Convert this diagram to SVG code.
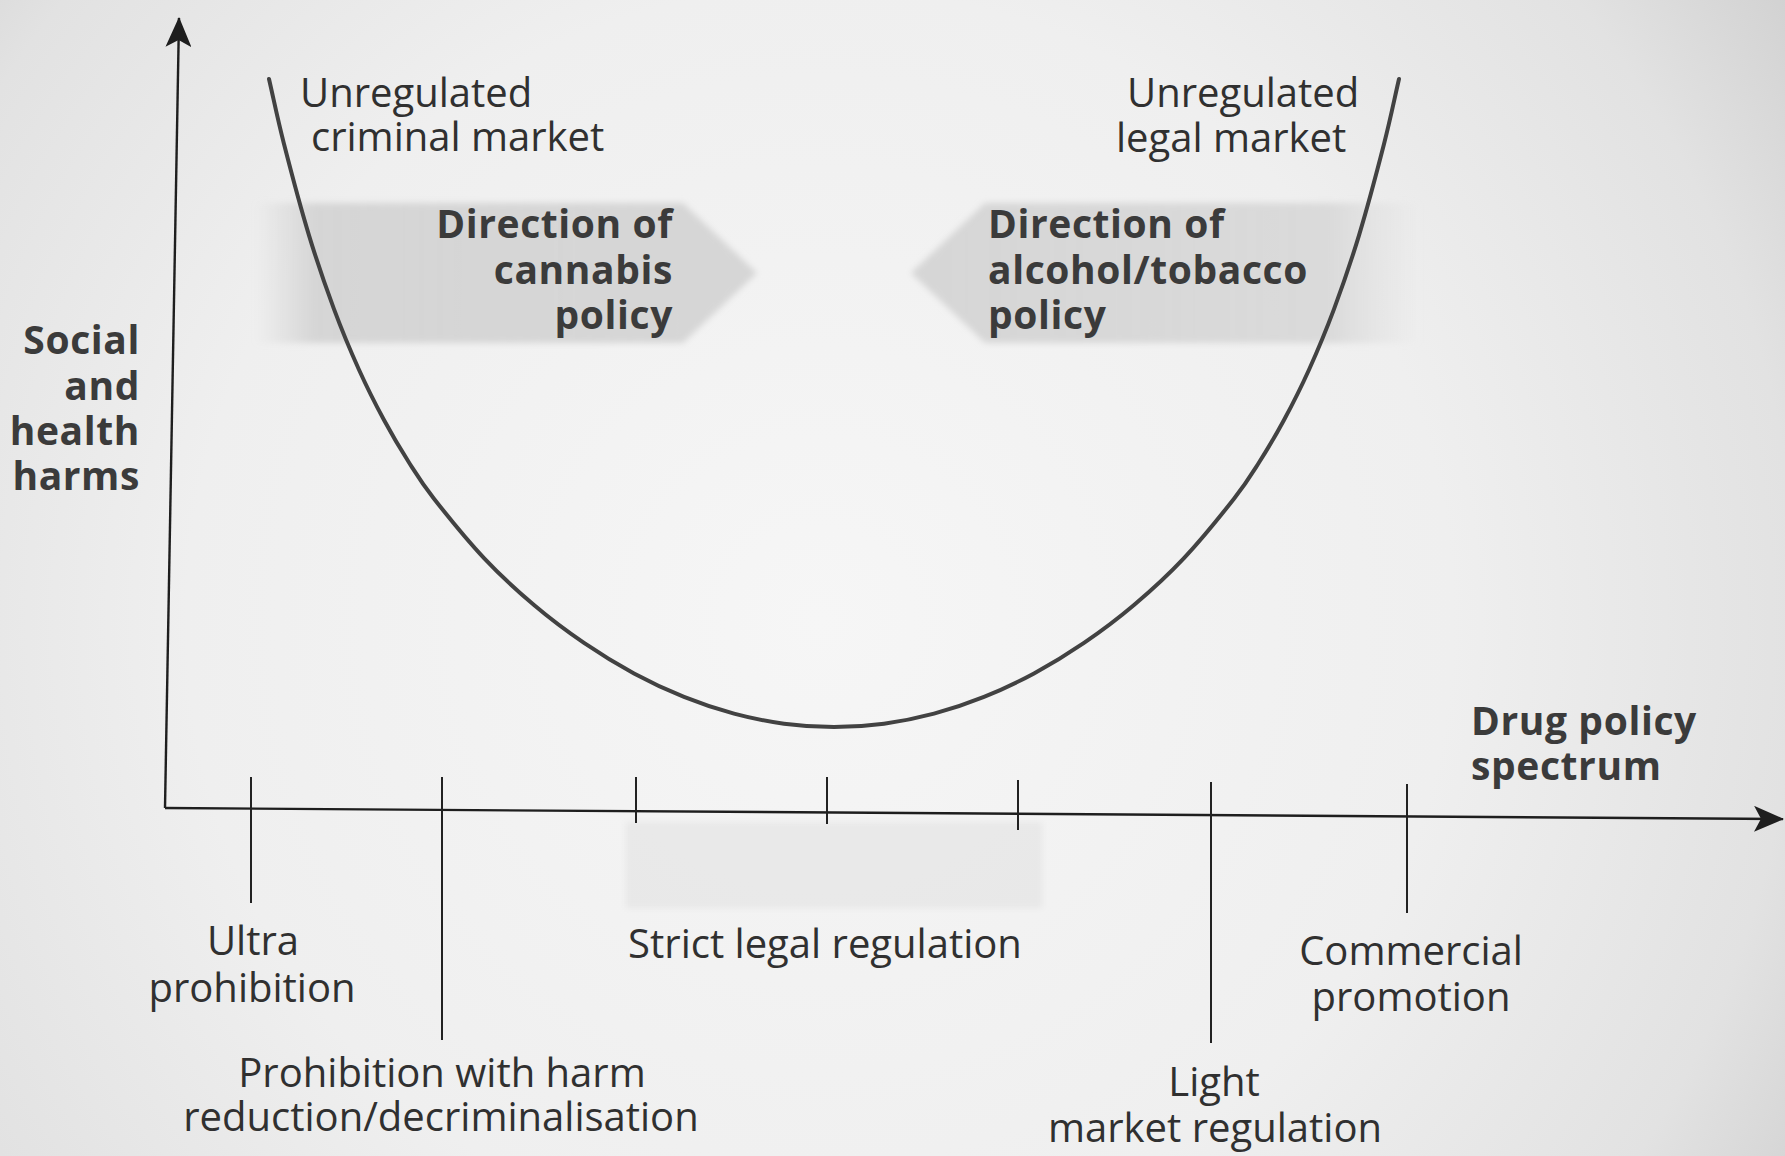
<svg xmlns="http://www.w3.org/2000/svg" width="1785" height="1156" viewBox="0 0 1785 1156">
  <defs>
    <radialGradient id="paper" cx="820" cy="620" r="1150" gradientUnits="userSpaceOnUse">
      <stop offset="0" stop-color="#f6f6f6"/>
      <stop offset="0.55" stop-color="#efefef"/>
      <stop offset="0.85" stop-color="#e2e2e2"/>
      <stop offset="1" stop-color="#d2d2d2"/>
    </radialGradient>
    <linearGradient id="bandLeft" x1="255" y1="0" x2="757" y2="0" gradientUnits="userSpaceOnUse">
      <stop offset="0" stop-color="#d3d3d3" stop-opacity="0"/>
      <stop offset="0.12" stop-color="#d3d3d3" stop-opacity="0.9"/>
      <stop offset="1" stop-color="#d6d6d6"/>
    </linearGradient>
    <linearGradient id="bandRight" x1="911" y1="0" x2="1420" y2="0" gradientUnits="userSpaceOnUse">
      <stop offset="0" stop-color="#d6d6d6"/>
      <stop offset="0.82" stop-color="#d8d8d8" stop-opacity="0.9"/>
      <stop offset="1" stop-color="#dadada" stop-opacity="0"/>
    </linearGradient>
    <filter id="soft" x="-5%" y="-20%" width="110%" height="140%">
      <feGaussianBlur stdDeviation="3"/>
    </filter>
    <marker id="arrowhead" viewBox="0 0 30 26" refX="29" refY="13" markerWidth="30" markerHeight="26" markerUnits="userSpaceOnUse" orient="auto">
      <path d="M0,0 L30,13 L0,26 L7,13 Z" fill="#1e1e1e"/>
    </marker>
    <style>
      .label { font-family: "Open Sans", "Noto Sans", "Liberation Sans", sans-serif; font-size: 40px; fill: #303030; }
      .bold { font-family: "Open Sans", "Noto Sans", "Liberation Sans", sans-serif; font-size: 39px; font-weight: bold; letter-spacing: 0.6px; fill: #3b3b3b; }
      .mid { text-anchor: middle; }
      .end { text-anchor: end; }
      .axis { fill: none; stroke: #1e1e1e; stroke-width: 2.4; }
      .tick { stroke: #222; stroke-width: 2; }
      .curve { fill: none; stroke: #424242; stroke-width: 4; stroke-linecap: round; }
    </style>
  </defs>

  <!-- paper background -->
  <rect width="1785" height="1156" fill="url(#paper)"/>

  <!-- shaded policy-direction bands and the strict-regulation zone -->
  <g id="bands" filter="url(#soft)">
    <polygon id="band-cannabis" points="255,203 683,203 757,273 683,343 255,343" fill="url(#bandLeft)"/>
    <polygon id="band-alcohol" points="911,273 985,203 1420,203 1420,343 985,343" fill="url(#bandRight)"/>
    <rect id="zone-strict" x="626" y="822" width="416" height="86" fill="#000" fill-opacity="0.045"/>
  </g>

  <!-- harms curve: steep walls, flat minimum at strict legal regulation -->
  <g id="harm-curve">
    <path class="curve" d="M269,79 C274,100.67 277.33,117.95 284,144 C290.67,170.05 300.67,207.78 309,235.3 C317.33,262.82 325.67,286.7 334,309.1 C342.33,331.5 350.67,351.22 359,369.7 C367.33,388.18 375.67,404.53 384,420 C392.33,435.47 400.67,449.38 409,462.5 C417.33,475.62 421.5,482.77 434,498.7 C446.5,514.63 467.33,540.38 484,558.1 C500.67,575.82 517.33,590.87 534,605 C550.67,619.13 567.33,631.5 584,642.9 C600.67,654.3 617.33,664.41 634,673.4 C650.67,682.39 667.33,690.15 684,696.85 C700.67,703.55 717.33,709.13 734,713.6 C750.67,718.07 767.33,721.42 784,723.65 C800.67,725.88 817.33,727 834,727 C850.67,727 867.33,725.88 884,723.65 C900.67,721.42 917.33,718.07 934,713.6 C950.67,709.13 967.33,703.55 984,696.85 C1000.67,690.15 1017.33,682.39 1034,673.4 C1050.67,664.41 1067.33,654.3 1084,642.9 C1100.67,631.5 1117.33,619.13 1134,605 C1150.67,590.87 1167.33,575.82 1184,558.1 C1200.67,540.38 1221.5,514.63 1234,498.7 C1246.5,482.77 1250.67,475.62 1259,462.5 C1267.33,449.38 1275.67,435.47 1284,420 C1292.33,404.53 1300.67,388.18 1309,369.7 C1317.33,351.22 1325.67,331.5 1334,309.1 C1342.33,286.7 1350.67,262.82 1359,235.3 C1367.33,207.78 1377.33,170.05 1384,144 C1390.67,117.95 1394,100.67 1399,79"/>
  </g>

  <!-- axes and spectrum ticks -->
  <g id="connectors">
    <line class="axis" x1="165" y1="808" x2="179" y2="18" marker-end="url(#arrowhead)"/>
    <line class="axis" x1="165" y1="808" x2="1783" y2="819" marker-end="url(#arrowhead)"/>
    <line class="tick" x1="251" y1="777" x2="251" y2="903"/>
    <line class="tick" x1="442" y1="777" x2="442" y2="1040"/>
    <line class="tick" x1="636" y1="777" x2="636" y2="823"/>
    <line class="tick" x1="827" y1="777" x2="827" y2="824"/>
    <line class="tick" x1="1018" y1="780" x2="1018" y2="830"/>
    <line class="tick" x1="1211" y1="782" x2="1211" y2="1043"/>
    <line class="tick" x1="1407" y1="784" x2="1407" y2="913"/>
  </g>

  <!-- axis titles -->
  <g id="y-axis-title">
    <text class="bold end" x="140" y="354">Social</text>
    <text class="bold end" x="140" y="400">and</text>
    <text class="bold end" x="140" y="445">health</text>
    <text class="bold end" x="140" y="490">harms</text>
  </g>
  <g id="x-axis-title">
    <text class="bold" x="1471" y="735">Drug policy</text>
    <text class="bold" x="1471" y="780">spectrum</text>
  </g>

  <!-- curve end labels -->
  <g id="criminal-market">
    <text class="label" x="300" y="107">Unregulated</text>
    <text class="label" x="311" y="151">criminal market</text>
  </g>
  <g id="legal-market">
    <text class="label" x="1127" y="107">Unregulated</text>
    <text class="label" x="1116" y="152">legal market</text>
  </g>

  <!-- policy direction labels -->
  <g id="cannabis-direction">
    <text class="bold end" x="673" y="238">Direction of</text>
    <text class="bold end" x="673" y="284">cannabis</text>
    <text class="bold end" x="673" y="329">policy</text>
  </g>
  <g id="alcohol-direction">
    <text class="bold" x="988" y="238">Direction of</text>
    <text class="bold" x="988" y="284">alcohol/tobacco</text>
    <text class="bold" x="988" y="329">policy</text>
  </g>

  <!-- spectrum positions -->
  <g id="ultra-prohibition">
    <text class="label mid" x="253" y="955">Ultra</text>
    <text class="label mid" x="252" y="1002">prohibition</text>
  </g>
  <g id="harm-reduction">
    <text class="label mid" x="442" y="1087">Prohibition with harm</text>
    <text class="label mid" x="441" y="1131">reduction/decriminalisation</text>
  </g>
  <g id="strict-regulation">
    <text class="label mid" x="825" y="958">Strict legal regulation</text>
  </g>
  <g id="light-regulation">
    <text class="label mid" x="1214" y="1096">Light</text>
    <text class="label mid" x="1215" y="1142">market regulation</text>
  </g>
  <g id="commercial-promotion">
    <text class="label mid" x="1411" y="965">Commercial</text>
    <text class="label mid" x="1411" y="1011">promotion</text>
  </g>
</svg>
